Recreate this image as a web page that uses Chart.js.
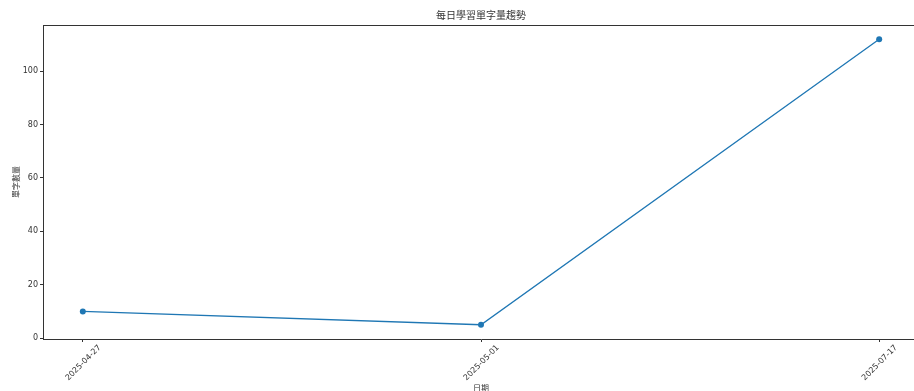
<!DOCTYPE html>
<html>
<head>
<meta charset="utf-8">
<script src="https://cdn.jsdelivr.net/npm/chart.js@4"></script>
<style>
  html, body { margin: 0; padding: 0; background: #fff; overflow: hidden; }
  #wrap { width: 926px; height: 391px; }
</style>
</head>
<body>
<div id="wrap"><canvas id="Chart" width="926" height="391"></canvas></div>
<script>
// data
const dates = ['2025-04-27', '2025-05-01', '2025-07-17'];
const wordCounts = [10, 5, 112];
const yTicks = [0, 20, 40, 60, 80, 100];

const chartTitle = '每日學習單字量趨勢';
const xTitle = '日期';
const yTitle = '單字數量';

const cjk = "'DejaVu Sans', 'Noto Sans CJK TC', sans-serif";
const ink = '#333';

// top spine (right spine falls outside the window in the original)
const frame = {
    id: 'frame',
    afterDraw(chart) {
        const a = chart.chartArea;
        const c = chart.ctx;
        c.save();
        c.strokeStyle = ink;
        c.lineWidth = 1;
        c.beginPath();
        c.moveTo(a.left, a.top + 0.5);
        c.lineTo(a.right, a.top + 0.5);
        c.stroke();
        c.restore();
    }
};

const ctx = document.getElementById('Chart').getContext('2d');
let myChart = new Chart(ctx, {
    type: 'line',
    data: {
        datasets: [{
            label: yTitle,
            data: dates.map((d, i) => ({ x: i, y: wordCounts[i] })),
            borderColor: '#1f77b4',
            backgroundColor: '#1f77b4',
            borderWidth: 1.3,
            pointRadius: 3,
            pointBorderWidth: 0,
            tension: 0
        }]
    },
    plugins: [frame],
    options: {
        responsive: false,
        animation: false,
        layout: { padding: { left: 0, right: 7, top: 0, bottom: 0 } },
        plugins: {
            legend: { display: false },
            tooltip: { enabled: false },
            title: {
                display: true,
                fullSize: false,
                text: chartTitle,
                color: ink,
                font: { family: cjk, size: 10, weight: 'normal' },
                padding: { top: 10, bottom: 3 }
            }
        },
        scales: {
            x: {
                type: 'linear',
                min: -0.1,
                max: dates.length - 1 + 0.1,
                afterBuildTicks: (s) => { s.ticks = dates.map((d, i) => ({ value: i })) },
                afterFit: (s) => { s.height = 52; s.paddingLeft = 0; s.paddingRight = 0 },
                ticks: {
                    callback: (v) => dates[v],
                    minRotation: 45,
                    maxRotation: 45,
                    labelOffset: 17,
                    padding: 1,
                    color: ink,
                    font: { family: cjk, size: 8 }
                },
                grid: { drawOnChartArea: false, tickLength: 3, color: ink },
                border: { color: ink },
                title: {
                    display: true,
                    text: xTitle,
                    color: ink,
                    font: { family: cjk, size: 8 },
                    padding: { top: 0, bottom: -3 }
                }
            },
            y: {
                min: -0.35,
                max: 117.35,
                afterBuildTicks: (s) => { s.ticks = yTicks.map(v => ({ value: v })) },
                afterFit: (s) => { s.width = 43; s.paddingTop = 0; s.paddingBottom = 0 },
                ticks: {
                    padding: 2,
                    color: ink,
                    font: { family: cjk, size: 8 }
                },
                grid: { drawOnChartArea: false, tickLength: 3, color: ink },
                border: { color: ink },
                title: {
                    display: true,
                    text: yTitle,
                    color: ink,
                    font: { family: cjk, size: 8 },
                    padding: { top: 12, bottom: 0 }
                }
            }
        }
    }
});
</script>
</body>
</html>
